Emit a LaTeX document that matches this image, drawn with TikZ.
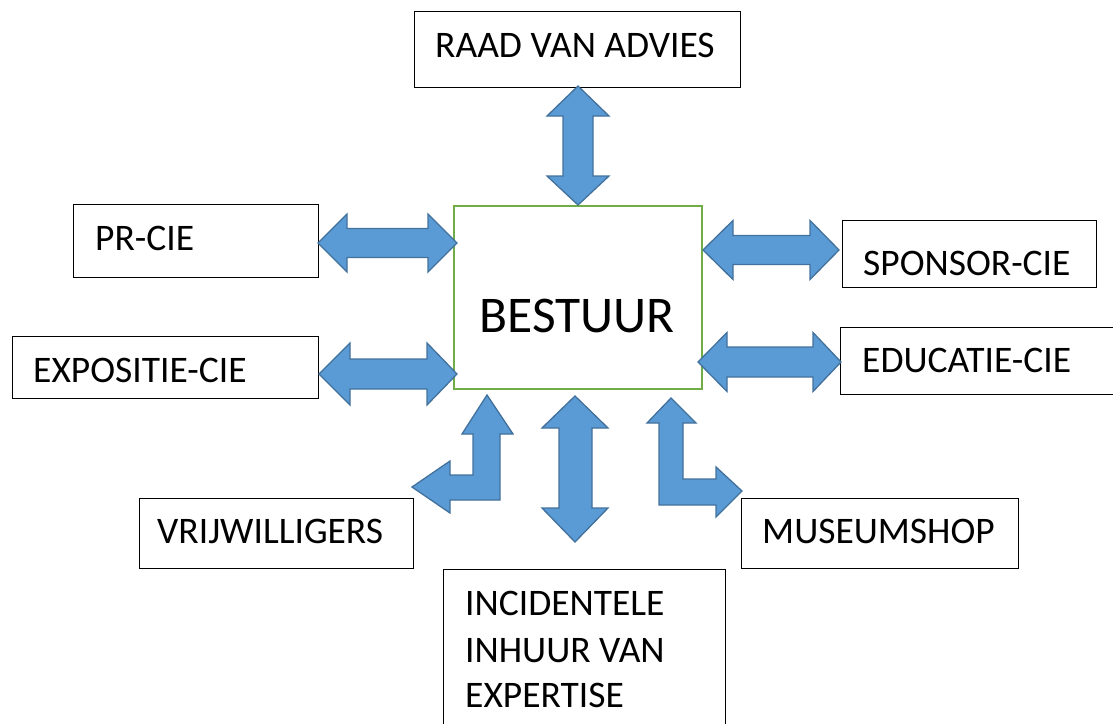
\documentclass[tikz,border=0pt]{standalone}
\usepackage{fontspec}
\setmainfont{Carlito}
\definecolor{arrowfill}{HTML}{5B9BD5}
\definecolor{arrowline}{HTML}{41719C}
\definecolor{bestuurline}{HTML}{70AD47}
\begin{document}
\begin{tikzpicture}[x=1pt,y=-1pt,
  box/.style={draw=black,line width=1.2pt,fill=white,inner sep=0pt,anchor=north west},
  mainbox/.style={draw=bestuurline,line width=2pt,fill=white,inner sep=0pt,anchor=north west},
  lbl/.style={inner sep=0pt,anchor=base west,font=\fontsize{37.5}{46}\selectfont},
  blockarrow/.style={fill=arrowfill,draw=arrowline,line width=1.3pt,line join=miter}]
\useasboundingbox (0,0) rectangle (1113,723);
% boxes
\node[box,minimum width=326pt,minimum height=76pt] (raad) at (414,11) {};
\node[box,minimum width=245pt,minimum height=73pt] (pr) at (73,204) {};
\node[box,minimum width=306pt,minimum height=62pt] (expo) at (12,336) {};
\node[mainbox,minimum width=248pt,minimum height=183pt] (bestuur) at (453,205) {};
\node[box,minimum width=254pt,minimum height=67pt] (sponsor) at (842,220) {};
\node[box,minimum width=280pt,minimum height=67pt] (educatie) at (840,327) {};
\node[box,minimum width=274pt,minimum height=70pt] (vrij) at (139,498) {};
\node[box,minimum width=277pt,minimum height=70pt] (museum) at (741,498) {};
\node[box,minimum width=282pt,minimum height=170pt] (incid) at (443,569) {};
% labels
\node[lbl] (traad) at (435,57) {RAAD VAN ADVIES};
\node[lbl] (tpr) at (95,250) {PR-CIE};
\node[lbl] (texpo) at (33,382) {EXPOSITIE-CIE};
\node[inner sep=0pt,anchor=base,font=\fontsize{51.5}{60}\selectfont] (tbestuur) at (577,332) {BESTUUR};
\node[lbl] (tsponsor) at (863,275) {SPONSOR-CIE};
\node[lbl] (teducatie) at (862,372) {EDUCATIE-CIE};
\node[lbl] (tvrij) at (157,543) {VRIJWILLIGERS};
\node[lbl] (tmuseum) at (762,543) {MUSEUMSHOP};
\node[lbl] (tinc1) at (465,615) {INCIDENTELE};
\node[lbl] (tinc2) at (465,662) {INHUUR VAN};
\node[lbl] (tinc3) at (465,707) {EXPERTISE};
% block arrows
% PR
\filldraw[blockarrow] (318,243) -- (347,214) -- (347,228.5) -- (428,228.5) -- (428,214) -- (457,243) -- (428,272) -- (428,257.5) -- (347,257.5) -- (347,272) -- cycle;
% EXPO
\filldraw[blockarrow] (319,374) -- (350,343) -- (350,359) -- (427,359) -- (427,343) -- (457,374) -- (427,405) -- (427,389) -- (350,389) -- (350,405) -- cycle;
% SPONSOR
\filldraw[blockarrow] (703,250) -- (733,220.5) -- (733,235.5) -- (810,235.5) -- (810,220.5) -- (839,250) -- (810,279.5) -- (810,264.5) -- (733,264.5) -- (733,279.5) -- cycle;
% EDUCATIE
\filldraw[blockarrow] (698,362) -- (727,332.5) -- (727,347) -- (813,347) -- (813,332.5) -- (841,362) -- (813,391.5) -- (813,377) -- (727,377) -- (727,391.5) -- cycle;
% RAAD
\filldraw[blockarrow] (578,86) -- (609,116) -- (593,116) -- (593,176) -- (609,176) -- (578,205) -- (547,176) -- (563,176) -- (563,116) -- (547,116) -- cycle;
% INCIDENTELE
\filldraw[blockarrow] (575,396) -- (608,428) -- (592,428) -- (592,508) -- (608,508) -- (575,542) -- (542,508) -- (559,508) -- (559,428) -- (542,428) -- cycle;
% VRIJWILLIGERS (bent)
\filldraw[blockarrow] (487,395) -- (513,434) -- (500,434) -- (500,500) -- (450,500) -- (450,513) -- (412,487) -- (450,461) -- (450,475) -- (473,475) -- (473,434) -- (462,434) -- cycle;
% MUSEUMSHOP (bent)
\filldraw[blockarrow] (671,398) -- (696,423) -- (683,423) -- (683,479) -- (716,479) -- (716,467) -- (742,491) -- (716,517) -- (716,505) -- (659,505) -- (659,423) -- (647,423) -- cycle;
\end{tikzpicture}
\end{document}
